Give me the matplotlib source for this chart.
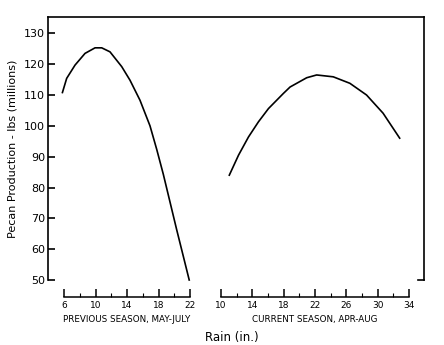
import numpy as np
import matplotlib
matplotlib.use('Agg')
import matplotlib.pyplot as plt

# previous season (May-July) rain vs production
prev_rain = [5.8, 6.34, 7.4, 8.67, 9.94, 10.79, 11.84, 13.33, 14.38, 15.65, 16.92, 17.77, 18.61, 19.46, 20.31, 21.15, 21.9]
prev_prod = [110.8, 115.4, 119.7, 123.5, 125.3, 125.3, 124.0, 119.2, 114.8, 108.3, 100.0, 92.4, 84.3, 75.3, 66.3, 57.7, 50.0]

# current season (Apr-Aug)
curr_rain = [11.06, 12.24, 13.51, 14.78, 16.06, 17.96, 18.82, 20.94, 22.21, 24.33, 26.45, 28.58, 30.69, 32.81]
curr_prod = [84.0, 90.5, 96.4, 101.3, 105.6, 110.5, 112.6, 115.6, 116.5, 115.9, 113.8, 110.0, 104.1, 96.0]

yticks = [50, 60, 70, 80, 90, 100, 110, 120, 130]
prev_ticks = [6, 10, 14, 18, 22]
curr_ticks = [10, 14, 18, 22, 26, 30, 34]

W, H = 444, 345
fig = plt.figure(figsize=(W / 100, H / 100), dpi=100)
plt.rcParams['font.family'] = 'DejaVu Sans'

def rect(x0, x1, y0, y1):
    return [x0 / W, (H - y1) / H, (x1 - x0) / W, (y1 - y0) / H]

ylim = (50, 135.3)

# frame axes with y scale
ax0 = fig.add_axes(rect(48, 424, 17, 280))
ax0.set_ylim(*ylim)
ax0.set_xlim(0, 1)
ax0.set_xticks([])
ax0.set_yticks(yticks)
ax0.spines['bottom'].set_visible(False)
for s in ['left', 'top', 'right']:
    ax0.spines[s].set_linewidth(1.2)
ax0.tick_params(axis='y', direction='in', length=5, width=1.2, labelsize=8, pad=2)
ax0.plot([0.985, 1.0], [0, 0], transform=ax0.transAxes, color='black', lw=1.2, clip_on=False)
ax0.set_ylabel('Pecan Production - lbs (millions)', fontsize=8, labelpad=5)


def season_axes(x0, x1, xlim, ticks, minor, label):
    ax = fig.add_axes(rect(x0, x1, 17, 280))
    ax.patch.set_alpha(0)
    ax.set_xlim(*xlim)
    ax.set_ylim(*ylim)
    ax.set_yticks([])
    for s in ['left', 'top', 'right']:
        ax.spines[s].set_visible(False)
    ax.spines['bottom'].set_position(('outward', 12))
    ax.spines['bottom'].set_linewidth(1.1)
    ax.set_xticks(ticks)
    ax.set_xticks(minor, minor=True)
    ax.tick_params(axis='x', which='major', direction='in', length=6, width=1.1, labelsize=6.5, pad=3)
    ax.tick_params(axis='x', which='minor', direction='in', length=3, width=0.8)
    ax.set_xlabel(label, fontsize=6.3, labelpad=4)
    return ax


ax1 = season_axes(64, 190, (6, 22), prev_ticks, np.arange(8, 22, 2), 'PREVIOUS SEASON, MAY-JULY')
ax1.plot(prev_rain, prev_prod, color='black', lw=1.2, clip_on=False, solid_joinstyle='round')

ax2 = season_axes(221, 409, (10, 34), curr_ticks, np.arange(12, 34, 2), 'CURRENT SEASON, APR-AUG')
ax2.plot(curr_rain, curr_prod, color='black', lw=1.2, clip_on=False, solid_joinstyle='round')

fig.text(232 / W, 1 - 338 / H, 'Rain (in.)', fontsize=8.5, ha='center', va='center')

fig.savefig('out.png', dpi=100)
